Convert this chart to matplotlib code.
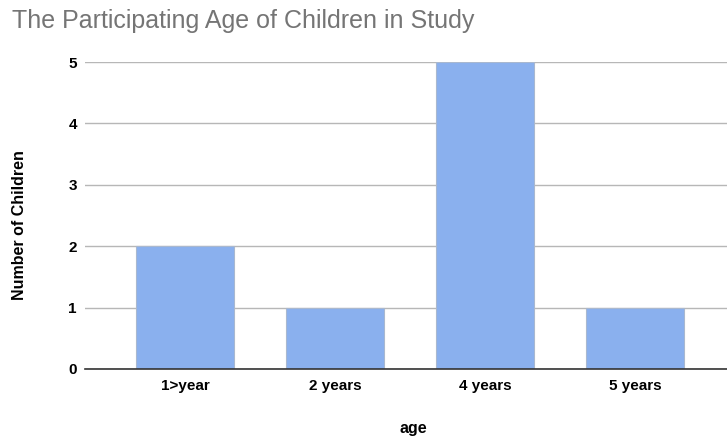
import matplotlib
matplotlib.use("Agg")
import matplotlib.pyplot as plt

categories = ["1>year", "2 years", "4 years", "5 years"]
counts = [2, 1, 5, 1]
y_ticks = [0, 1, 2, 3, 4, 5]

plt.rcParams["font.family"] = ["Liberation Sans", "DejaVu Sans"]

W, H = 727, 437
fig = plt.figure(figsize=(W / 100, H / 100), dpi=100)
# plot area in pixels: x 85..727, y 62..369 (from top)
ax = fig.add_axes([85 / W, 1 - 369 / H, 1 - 85 / W, (369 - 62) / H])

x = list(range(len(categories)))
ax.bar(x, counts, width=0.653, color="#8ab0ee", edgecolor="#a9b8cf",
       linewidth=0.8, zorder=3)

ax.set_xlim(-0.667, 3.613)
ax.set_ylim(0, 5)
ax.set_yticks(y_ticks)
ax.set_yticklabels([str(v) for v in y_ticks], fontweight="bold", fontsize=11)
ax.set_xticks(x)
ax.set_xticklabels(categories, fontweight="bold", fontsize=11)

ax.yaxis.grid(True, color="#b7b7b7", linewidth=1.0, zorder=0)
ax.tick_params(axis="both", length=0)
ax.tick_params(axis="y", pad=5.8)
ax.tick_params(axis="x", pad=7.5)
for side in ["top", "right", "left"]:
    ax.spines[side].set_visible(False)
ax.spines["bottom"].set_color("#333333")
ax.spines["bottom"].set_linewidth(1.2)
ax.spines["bottom"].set_zorder(4)

ax_w, ax_h = W - 85, 369 - 62
ax.set_ylabel("Number of Children", fontweight="bold", fontsize=11.5,
              va="center", ha="center")
ax.yaxis.set_label_coords((20 - 85) / ax_w, (369 - 225) / ax_h)
ax.set_xlabel("age", fontweight="bold", fontsize=11.5, va="center", ha="center")
ax.xaxis.set_label_coords((413 - 85) / ax_w, (369 - 429) / ax_h)

fig.text(12 / W, 1 - 28 / H, "The Participating Age of Children in Study",
         fontsize=18, color="#757575", va="baseline", ha="left")

fig.savefig("out.png", dpi=100)
